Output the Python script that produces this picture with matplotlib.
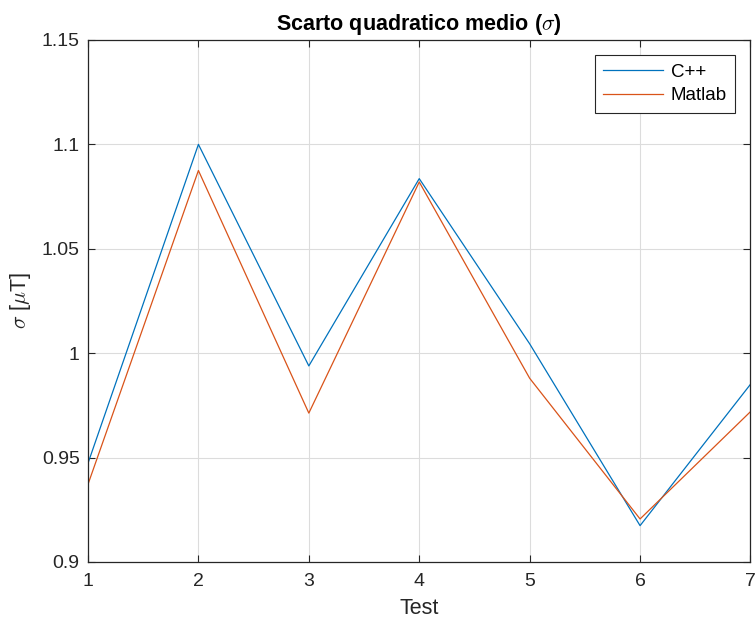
import matplotlib
matplotlib.use('Agg')
from matplotlib import pyplot as plt

plt.rcParams['font.family'] = ['Liberation Sans', 'DejaVu Sans']
plt.rcParams['mathtext.fontset'] = 'cm'

tests = [1, 2, 3, 4, 5, 6, 7]
sigma_cpp = [0.9473, 1.1000, 0.9939, 1.0836, 1.0045, 0.9174, 0.9851]
sigma_matlab = [0.9372, 1.0875, 0.9713, 1.0820, 0.9880, 0.9206, 0.9720]
yticks = [0.9, 0.95, 1.0, 1.05, 1.1, 1.15]
ytick_labels = ['0.9', '0.95', '1', '1.05', '1.1', '1.15']

fig = plt.figure(figsize=(7.56, 6.24), dpi=100)
ax = fig.add_axes([0.1164, 0.0994, 0.8763, 0.8365])

ax.plot(tests, sigma_cpp, color='#0072BD', lw=0.9, label='C++')
ax.plot(tests, sigma_matlab, color='#D95319', lw=0.9, label='Matlab')

ax.set_xlim(1, 7)
ax.set_ylim(0.9, 1.15)
ax.set_xticks(tests)
ax.set_yticks(yticks, ytick_labels)

ax.grid(True, color='#dcdcdc', lw=0.8)
ax.set_axisbelow(True)
for s in ax.spines.values():
    s.set_color('#262626')
    s.set_linewidth(0.9)
ax.tick_params(direction='in', top=True, right=True, length=5, width=0.8,
               color='#262626', labelsize=14, labelcolor='#262626')
ax.tick_params(axis='x', pad=8)
ax.tick_params(axis='y', pad=6)

ax.set_title(r'Scarto quadratico medio ($\sigma$)', fontsize=15.5, fontweight='bold', pad=7)
ax.set_xlabel('Test', fontsize=15.5, color='#262626', labelpad=6)
ax.set_ylabel(r'$\sigma$ [$\mu$T]', fontsize=15.5, color='#262626', labelpad=6)

leg = ax.legend(loc='upper right', fontsize=13.5, fancybox=False, framealpha=1,
                edgecolor='#262626', handlelength=3.2, borderaxespad=0.8,
                labelspacing=0.35, handletextpad=0.4, borderpad=0.45)
leg.get_frame().set_linewidth(0.8)

plt.savefig('out.png', dpi=100)
